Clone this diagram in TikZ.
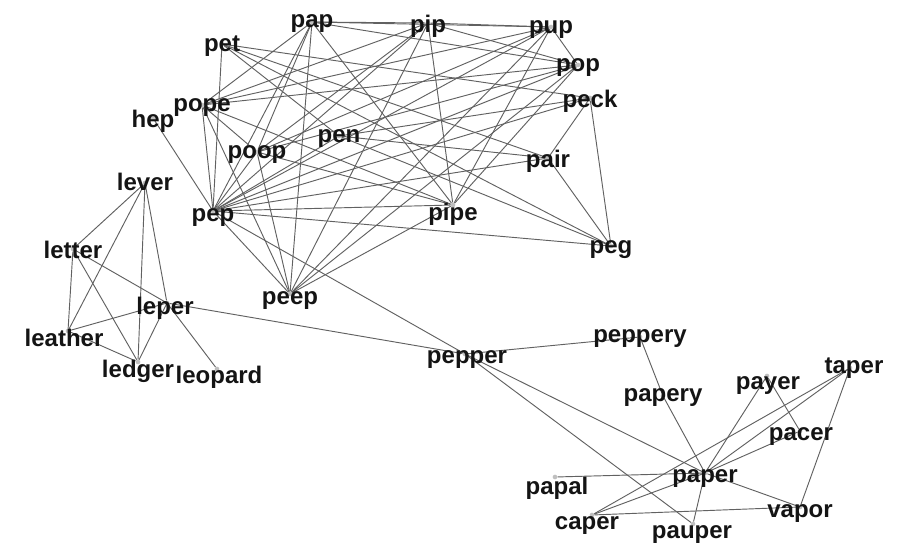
\documentclass[tikz,border=0pt]{standalone}
\usepackage{fontspec}
\setmainfont{Liberation Sans}
\begin{document}
\begin{tikzpicture}[x=0.75pt,y=-0.75pt,
  vert/.style={circle,fill=gray!50,inner sep=0pt,minimum size=3.5pt},
  lbl/.style={inner sep=0pt,font=\fontsize{18}{20}\selectfont\bfseries,text=black!92},
  edge/.style={draw=black!62,line width=0.7pt}]
\fill[white] (0,0) rectangle (908,546);
\useasboundingbox (0,0) rectangle (908,546);
% vertices
\foreach \n/\x/\y in {pap/312/22, pip/428/23, pup/551/27, pet/222/44, pop/578/65,
  peck/590/98, pope/202/105, hep/153/118, pen/339/136, poop/257/152, pair/548/158,
  pep/213/211, pipe/453/205, peg/611/246, peep/290/294,
  lever/145/183, letter/73/249, leper/167/303, leather/68/331, ledger/138/362, leopard/217/369,
  pepper/465/354, peppery/640/337, papery/663/396, payer/767/376, taper/850/368,
  pacer/800/431, paper/705/473, papal/555/477, vapor/800/507, caper/592/515, pauper/693/524}
  \node[vert] (\n) at (\x,\y) {};
% edges
\foreach \a/\b in {pep/pap, pep/pip, pep/pup, pep/pop, pep/pope, pep/poop, pep/pipe, pep/peep,
  pap/pip, pap/pup, pap/pop, pap/pope, pap/poop, pap/pipe, pap/peep,
  pip/pup, pip/pop, pip/pope, pip/poop, pip/pipe, pip/peep,
  pup/pop, pup/pope, pup/poop, pup/pipe, pup/peep,
  pop/pope, pop/poop, pop/pipe, pop/peep,
  pope/poop, pope/pipe, pope/peep,
  poop/pipe, poop/peep, pipe/peep,
  pep/pet, pep/peck, pep/pen, pep/pair, pep/peg,
  pet/peck, pet/pen, pet/pair, pet/peg,
  peck/pen, peck/pair, peck/peg, pen/pair, pen/peg, pair/peg,
  pep/hep,
  pep/pepper, leper/pepper, pepper/peppery, pepper/paper, pepper/pauper,
  lever/letter, lever/leather, lever/ledger, lever/leper,
  letter/leather, letter/ledger, letter/leper,
  leather/ledger, leather/leper, ledger/leper, leper/leopard,
  peppery/papery, papery/paper, paper/papal, paper/caper, paper/pauper,
  paper/vapor, paper/taper, paper/payer, paper/pacer, payer/pacer,
  caper/taper, caper/vapor, taper/vapor}
  \draw[edge] (\a) -- (\b);
% labels
\foreach \n/\x/\y in {pap/312/24, pip/428/26, pup/551/30, pet/222/46, pop/578/68,
  peck/590/101, pope/202/108, hep/153/121, pen/339/139, poop/257/155, pair/548/161,
  pep/213/218, pipe/453/214, peg/611/250, peep/290/301,
  lever/145/182, letter/73/250, leper/165/308, leather/64/338, ledger/138/371, leopard/219/377,
  pepper/467/360, peppery/640/339, papery/663/398, payer/768/386, taper/854/368,
  pacer/801/437, paper/705/479, papal/557/488, vapor/800/514, caper/587/526, pauper/692/535}
  \node[lbl] (t\n) at (\x,\y) {\n};
\end{tikzpicture}
\end{document}
